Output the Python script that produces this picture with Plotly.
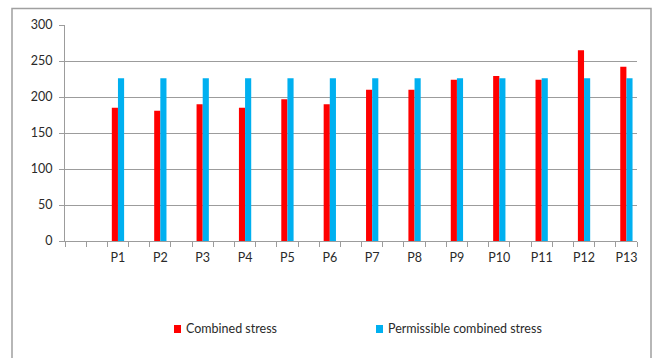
import plotly.graph_objects as go

# Chart data
categories = ["", "P1", "P2", "P3", "P4", "P5", "P6", "P7", "P8", "P9", "P10", "P11", "P12", "P13"]
combined_stress = [None, 185, 181, 190, 185, 197, 190, 210, 210, 224, 229, 224, 265, 242]
permissible_stress = [None, 226, 226, 226, 226, 226, 226, 226, 226, 226, 226, 226, 226, 226]
series_names = ["Combined stress", "Permissible combined stress"]
y_ticks = [0, 50, 100, 150, 200, 250, 300]

RED = "#FF0000"
BLUE = "#00B0F0"
GRID = "#9C9C9C"
TEXT = "#2A2A2A"
FONT = "Lato, 'Liberation Sans', sans-serif"
FSIZE = 12.5

W, H = 654, 358
ML, MR, MT, MB = 65, 17, 25, 117
PW, PH = W - ML - MR, H - MT - MB

def px_x(x):
    return (x - ML) / PW

def px_y(y):
    return (H - MB - y) / PH

xpos = list(range(len(categories)))

fig = go.Figure()
fig.add_trace(go.Bar(x=xpos, y=combined_stress, name=series_names[0],
                     marker=dict(color=RED, line=dict(width=0)), showlegend=False))
fig.add_trace(go.Bar(x=xpos, y=permissible_stress, name=series_names[1],
                     marker=dict(color=BLUE, line=dict(width=0)), showlegend=False))

fig.update_layout(
    width=W, height=H,
    margin=dict(l=ML, r=MR, t=MT, b=MB),
    paper_bgcolor="white", plot_bgcolor="white",
    barmode="group", bargap=0.71, bargroupgap=0,
    font=dict(family=FONT, size=FSIZE, color=TEXT),
    xaxis=dict(
        range=[-0.25, len(categories) - 0.75],
        tickmode="array", tickvals=xpos[1:], ticktext=categories[1:],
        ticks="", showgrid=False, zeroline=False,
        showline=True, linecolor=GRID, linewidth=1,
        ticklabelstandoff=5,
        tickfont=dict(family=FONT, size=FSIZE, color=TEXT),
        minor=dict(tickmode="linear", tick0=-0.25, dtick=0.5, ticks="outside",
                   ticklen=5, tickcolor=GRID, tickwidth=1, showgrid=False),
    ),
    yaxis=dict(
        range=[0, 300], tickmode="array", tickvals=y_ticks,
        ticks="outside", ticklen=5, tickcolor=GRID, tickwidth=1,
        showgrid=True, gridcolor=GRID, gridwidth=1, zeroline=False,
        showline=True, linecolor=GRID, linewidth=1,
        ticklabelstandoff=4,
        tickfont=dict(family=FONT, size=FSIZE, color=TEXT),
    ),
)

# Chart area border
fig.add_shape(type="rect", xref="paper", yref="paper",
              x0=px_x(12), x1=px_x(651), y0=px_y(365), y1=px_y(8.5),
              line=dict(color="#A0A0A0", width=1.5), fillcolor="rgba(0,0,0,0)", layer="below")

# Legend
legend_items = [(series_names[0], RED, 174), (series_names[1], BLUE, 376)]
for name, color, lx in legend_items:
    fig.add_shape(type="rect", xref="paper", yref="paper",
                  x0=px_x(lx), x1=px_x(lx + 7), y0=px_y(333), y1=px_y(325),
                  line=dict(width=0), fillcolor=color)
    fig.add_annotation(xref="paper", yref="paper", x=px_x(lx + 10), y=px_y(328.5),
                       text=name, showarrow=False, xanchor="left", yanchor="middle",
                       font=dict(family=FONT, size=FSIZE, color=TEXT))

fig.write_html("out.html")
